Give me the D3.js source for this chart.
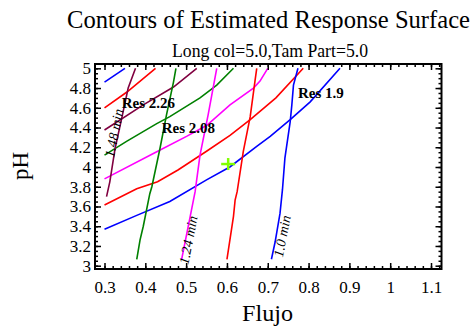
<!DOCTYPE html>
<html><head><meta charset="utf-8">
<script src="https://cdn.jsdelivr.net/npm/d3@7"></script>
<style>
html,body{margin:0;padding:0;background:#fff;}
svg{display:block;}
text{font-family:"Liberation Serif","Times New Roman",Times,serif;fill:#000;}
</style></head>
<body>
<svg id="chart" width="475" height="326"></svg>
<script>
// ---------- data ----------
const chartTitle = "Contours of Estimated Response Surface";
const chartSubtitle = "Long col=5.0,Tam Part=5.0";
const xLabel = "Flujo";
const yLabel = "pH";
const xDomain = [0.2767, 1.1257];
const yDomain = [2.9666, 5.0436];
const xMajorTicks = [0.3,0.4,0.5,0.6,0.7,0.8,0.9,1.0,1.1];
const yMajorTicks = [3,3.2,3.4,3.6,3.8,4,4.2,4.4,4.6,4.8,5];
const xTickLabels = ["0.3","0.4","0.5","0.6","0.7","0.8","0.9","1","1.1"];
const yTickLabels = ["3","3.2","3.4","3.6","3.8","4","4.2","4.4","4.6","4.8","5"];
const xMinorTicks = d3.range(15, 57).map(i => i * 0.02);
const yMinorTicks = d3.range(60, 101).map(i => i * 0.05);

// Resolution contours (Flujo, pH)
const resLevels = [1.9, 1.96, 2.02, 2.08, 2.14, 2.20, 2.26];
const res190 = [[0.3,3.37],[0.379,3.51],[0.46,3.65],[0.55,3.87],[0.607,4.0],[0.673,4.21],[0.706,4.31],[0.755,4.48],[0.804,4.66],[0.877,5.0]];
const res196 = [[0.3,3.615],[0.379,3.78],[0.43,3.85],[0.48,3.97],[0.55,4.16],[0.6075,4.32],[0.657,4.48],[0.72,4.70],[0.787,5.0]];
const res202 = [[0.3,3.88],[0.428,4.155],[0.501,4.31],[0.55,4.42],[0.6075,4.63],[0.665,4.80],[0.681,4.87],[0.70,5.0]];
const res208 = [[0.3,4.12],[0.354,4.26],[0.428,4.44],[0.46,4.51],[0.534,4.70],[0.575,4.83],[0.616,5.0]];
const res214 = [[0.3,4.375],[0.395,4.63],[0.469,4.81],[0.526,5.0]];
const res220 = [[0.3,4.6],[0.355,4.76],[0.425,5.0]];
const res226 = [[0.3,4.86],[0.35,5.0]];
const resContours = [res190, res196, res202, res208, res214, res220, res226];

// Time contours (Flujo, pH)
const timeLevels = [1.0, 1.12, 1.24, 1.36, 1.48];
const time100 = [[0.709,3.065],[0.718,3.24],[0.73,3.53],[0.736,3.77],[0.742,4.09],[0.755,4.46],[0.759,4.63],[0.763,4.83],[0.774,5.0]];
const time112 = [[0.6,3.065],[0.616,3.5],[0.62,3.665],[0.625,3.75],[0.64,4.155],[0.657,4.51],[0.669,4.88],[0.673,5.0]];
const time124 = [[0.489,3.065],[0.51,3.5],[0.522,3.75],[0.534,4.12],[0.554,4.53],[0.575,5.0]];
const time136 = [[0.379,3.065],[0.387,3.26],[0.395,3.40],[0.411,3.73],[0.416,3.8],[0.436,4.19],[0.452,4.53],[0.469,4.86],[0.475,5.0]];
const time148 = [[0.305,3.70],[0.313,3.85],[0.326,4.19],[0.342,4.49],[0.358,4.80],[0.376,5.0]];
const timeContours = [time100, time112, time124, time136, time148];

// labels (Flujo, pH)
const resLabelText = ["Res 1.9", "Res 2.26", "Res 2.08"];
const resLabelPos = [[0.774,4.696],[0.342,4.595],[0.44,4.34]];
const timeLabelText = ["1.0 min", "1.24 min", "1.48 min"];
const timeLabelPos = [[0.735,3.30],[0.505,3.26],[0.323,4.344]];
const optimumPoint = [0.603, 4.03];

// ---------- styles ----------
const resColors = ["#0000ff","#ff0000","#ff00ff","#008000","#800040","#ff0000","#0000ff"];
const timeColors = ["#0000ff","#ff0000","#ff00ff","#008000","#800040"];
const serif = '"Liberation Serif","Times New Roman",Times,serif';

// ---------- drawing ----------
const svg = d3.select("#chart");
const x = d3.scaleLinear().domain(xDomain).range([95, 441.5]);
const y = d3.scaleLinear().domain(yDomain).range([269, 64]);
const line = d3.line().x(d => x(d[0])).y(d => y(d[1]));

svg.append("text").attr("x", 268.5).attr("y", 28).attr("text-anchor","middle")
  .attr("textLength", 403).attr("lengthAdjust","spacingAndGlyphs")
  .style("font-family", serif).style("font-size","24.5px").text(chartTitle);
svg.append("text").attr("x", 270).attr("y", 57).attr("text-anchor","middle")
  .attr("textLength", 196).attr("lengthAdjust","spacingAndGlyphs")
  .style("font-family", serif).style("font-size","18px").text(chartSubtitle);

// contours
const g = svg.append("g");
resContours.forEach((c,i) => g.append("path").attr("d", line(c)).attr("fill","none")
  .attr("stroke", resColors[i]).attr("stroke-width",1.6));
timeContours.forEach((c,i) => g.append("path").attr("d", line(c)).attr("fill","none")
  .attr("stroke", timeColors[i]).attr("stroke-width",1.6));

// labels
resLabelText.forEach((t,i) => svg.append("text")
  .attr("x", x(resLabelPos[i][0])).attr("y", y(resLabelPos[i][1]))
  .style("font-family", serif).style("font-size","15px").style("font-weight","bold").text(t));
timeLabelText.forEach((t,i) => {
  const px = x(timeLabelPos[i][0]), py = y(timeLabelPos[i][1]);
  svg.append("text").attr("transform", `translate(${px},${py}) rotate(-79)`)
    .attr("text-anchor","middle").attr("dy","0.35em")
    .style("font-family", serif).style("font-size","14px").style("font-style","italic").text(t);
});

// optimum marker
const mx = x(optimumPoint[0]), my = y(optimumPoint[1]);
svg.append("line").attr("x1",mx-7).attr("x2",mx+7).attr("y1",my).attr("y2",my)
  .attr("stroke","#80ff00").attr("stroke-width",2.5);
svg.append("line").attr("x1",mx).attr("x2",mx).attr("y1",my-6).attr("y2",my+6)
  .attr("stroke","#80ff00").attr("stroke-width",2.5);

// axes
function styleAxis(sel){
  sel.attr("font-family", serif);
  sel.select(".domain").remove();
  sel.selectAll("line").attr("stroke","#000").attr("stroke-width",1.5);
  sel.selectAll("text").style("font-size","17px").style("font-family", serif).attr("fill","#000");
}
const fmtX = (d) => xTickLabels[xMajorTicks.indexOf(d)];
const fmtY = (d) => yTickLabels[yMajorTicks.indexOf(d)];
const bottomMajor = svg.append("g").attr("transform","translate(0,269)")
  .call(d3.axisBottom(x).tickValues(xMajorTicks).tickFormat(fmtX).tickSizeInner(-6).tickSizeOuter(0).tickPadding(12));
styleAxis(bottomMajor);
const bottomMinor = svg.append("g").attr("transform","translate(0,269)")
  .call(d3.axisBottom(x).tickValues(xMinorTicks).tickFormat("").tickSizeInner(-3).tickSizeOuter(0));
styleAxis(bottomMinor);
const topMajor = svg.append("g").attr("transform","translate(0,64)")
  .call(d3.axisTop(x).tickValues(xMajorTicks).tickFormat("").tickSizeInner(-6).tickSizeOuter(0));
styleAxis(topMajor);
const topMinor = svg.append("g").attr("transform","translate(0,64)")
  .call(d3.axisTop(x).tickValues(xMinorTicks).tickFormat("").tickSizeInner(-3).tickSizeOuter(0));
styleAxis(topMinor);
const leftMajor = svg.append("g").attr("transform","translate(95,0)")
  .call(d3.axisLeft(y).tickValues(yMajorTicks).tickFormat(fmtY).tickSizeInner(-6).tickSizeOuter(0).tickPadding(4));
styleAxis(leftMajor);
const leftMinor = svg.append("g").attr("transform","translate(95,0)")
  .call(d3.axisLeft(y).tickValues(yMinorTicks).tickFormat("").tickSizeInner(-3).tickSizeOuter(0));
styleAxis(leftMinor);
const rightMajor = svg.append("g").attr("transform","translate(441.5,0)")
  .call(d3.axisRight(y).tickValues(yMajorTicks).tickFormat("").tickSizeInner(-6).tickSizeOuter(0));
styleAxis(rightMajor);
const rightMinor = svg.append("g").attr("transform","translate(441.5,0)")
  .call(d3.axisRight(y).tickValues(yMinorTicks).tickFormat("").tickSizeInner(-3).tickSizeOuter(0));
styleAxis(rightMinor);

// frame
svg.append("rect").attr("x",95).attr("y",64).attr("width",346.5).attr("height",205)
  .attr("fill","none").attr("stroke","#000").attr("stroke-width",2);

// axis titles
svg.append("text").attr("x",267.5).attr("y",321).attr("text-anchor","middle")
  .attr("textLength", 51).attr("lengthAdjust","spacingAndGlyphs")
  .style("font-family", serif).style("font-size","23px").text(xLabel);
svg.append("text").attr("transform","translate(28,166) rotate(-90)").attr("text-anchor","middle")
  .style("font-family", serif).style("font-size","23px").text(yLabel);
</script>
</body></html>
